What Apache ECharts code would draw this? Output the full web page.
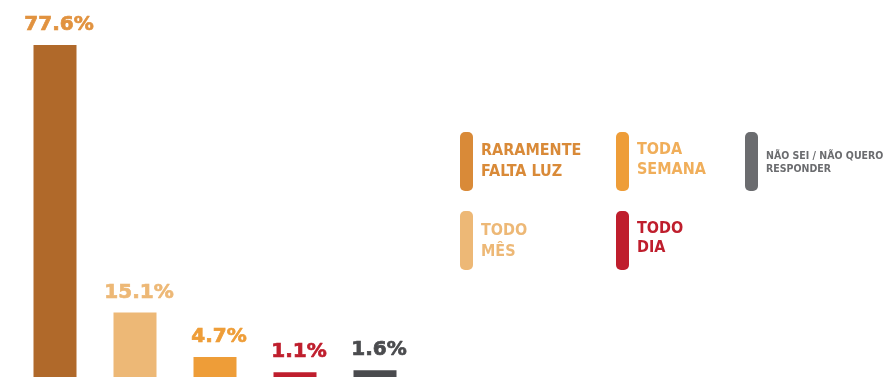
<!DOCTYPE html>
<html>
<head>
<meta charset="utf-8">
<script src="https://cdn.jsdelivr.net/npm/echarts@6/dist/echarts.min.js"></script>
<style>
  html, body { margin: 0; padding: 0; background: #ffffff; }
  #chart { width: 887px; height: 377px; }
</style>
</head>
<body>
<div id="chart"></div>
<script>
// Frequency of power outages (share of answers, %)
const categories = ['Raramente falta luz', 'Todo mês', 'Toda semana', 'Todo dia', 'Não sei / não quero responder'];
const values = [77.6, 15.1, 4.7, 1.1, 1.6];

// Legend captions, one entry per category (line breaks as drawn)
const legendCaptions = [
  ['RARAMENTE', 'FALTA LUZ'],
  ['TODO', 'MÊS'],
  ['TODA', 'SEMANA'],
  ['TODO', 'DIA'],
  ['NÃO SEI / NÃO QUERO', 'RESPONDER']
];

// Styling
const barColors = ['#B0692A', '#EDB876', '#EE9D38', '#BF1E2D', '#4A4B4E'];
const valueLabelColors = ['#E1923F', '#EDB876', '#EE9D38', '#BF1E2D', '#4A4B4E'];
const legendSwatchColors = ['#D98A38', '#EDB876', '#EE9D38', '#BF1E2D', '#6B6C6F'];
const legendTextColors = ['#D98A38', '#EDB876', '#F0AE5A', '#BF1E2D', '#6B6C6F'];

// Legend layout: swatch position and text settings for each entry
const legendSlots = [
  { x: 460, y: 132, textY: 151, fontSize: 16, lineH: 20.5 },
  { x: 460, y: 211, textY: 231, fontSize: 16, lineH: 20.5 },
  { x: 616, y: 132, textY: 150, fontSize: 16, lineH: 19.5 },
  { x: 616, y: 211, textY: 228.5, fontSize: 16, lineH: 19.5 },
  { x: 745, y: 132, textY: 156, fontSize: 10.5, lineH: 13.5 }
];

const legendFont = '"DejaVu Sans Condensed", "Liberation Sans Narrow", "Roboto", sans-serif';
const valueFont = '"DejaVu Sans", "Verdana", sans-serif';

const chart = echarts.init(document.getElementById('chart'), null, { renderer: 'canvas' });

const legendGraphics = [];
legendCaptions.forEach((lines, i) => {
  const s = legendSlots[i];
  legendGraphics.push({
    type: 'rect',
    shape: { x: s.x, y: s.y, width: 13, height: 59, r: 5 },
    style: { fill: legendSwatchColors[i] },
    silent: true
  });
  lines.forEach((line, k) => {
    legendGraphics.push({
      type: 'text',
      x: s.x + 21,
      y: s.textY + k * s.lineH,
      style: {
        text: line,
        fill: legendTextColors[i],
        font: 'bold ' + s.fontSize + 'px ' + legendFont,
        textVerticalAlign: 'middle',
        verticalAlign: 'middle'
      },
      silent: true
    });
  });
});

chart.setOption({
  backgroundColor: '#ffffff',
  animation: false,
  grid: { left: 15, right: 472, top: 45, bottom: 0, containLabel: false },
  xAxis: {
    type: 'category',
    data: categories,
    show: false
  },
  yAxis: {
    type: 'value',
    min: 0,
    max: 77.6,
    show: false
  },
  series: [{
    type: 'bar',
    barWidth: 43,
    data: values.map((v, i) => ({
      value: v,
      itemStyle: { color: barColors[i] },
      label: { color: valueLabelColors[i], textBorderColor: valueLabelColors[i] }
    })),
    label: {
      show: true,
      position: 'top',
      distance: 10,
      offset: [4, 0],
      fontFamily: valueFont,
      fontWeight: 'bold',
      fontSize: 20,
      textBorderWidth: 0.7,
      formatter: p => p.value.toFixed(1) + '%'
    }
  }],
  graphic: legendGraphics
});
</script>
</body>
</html>
